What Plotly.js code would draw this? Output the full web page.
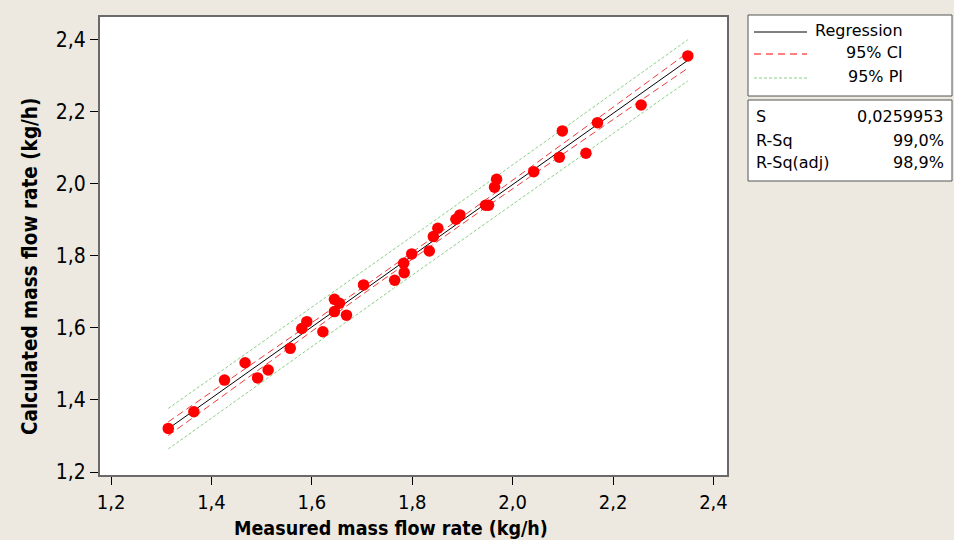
<!DOCTYPE html>
<html>
<head>
<meta charset="utf-8">
<script src="https://cdn.plot.ly/plotly-3.0.1.min.js"></script>
<style>html,body{margin:0;padding:0;background:#EDE9E0;overflow:hidden;}#chart{width:954px;height:540px;}</style>
</head>
<body>
<div id="chart"></div>
<script>
// Measured (x) and calculated (y) mass flow rates, kg/h
const measured = [1.314, 1.365, 1.426, 1.467, 1.492, 1.513, 1.557, 1.580, 1.590, 1.622,
  1.645, 1.645, 1.655, 1.669, 1.703, 1.765, 1.783, 1.784, 1.799, 1.834,
  1.842, 1.851, 1.887, 1.895, 1.946, 1.952, 1.964, 1.968, 2.042, 2.093,
  2.099, 2.146, 2.169, 2.256, 2.349];
const calculated = [1.321, 1.367, 1.455, 1.503, 1.461, 1.483, 1.543, 1.598, 1.617, 1.589,
  1.679, 1.645, 1.668, 1.635, 1.719, 1.732, 1.779, 1.753, 1.805, 1.813,
  1.853, 1.876, 1.901, 1.913, 1.940, 1.940, 1.990, 2.012, 2.033, 2.073,
  2.146, 2.084, 2.169, 2.218, 2.354];
const statLabels = ["S", "R-Sq", "R-Sq(adj)"];
const statValues = ["0,0259953", "99,0%", "98,9%"];
const legendLabels = ["Regression", "95% CI", "95% PI"];
const xTitle = 'Measured mass flow rate (kg/h)';
const yTitle = 'Calculated mass flow rate (kg/h)';
const sValue = 0.0259953;
const tValue = 2.035;
const tickVals = [1.2, 1.4, 1.6, 1.8, 2.0, 2.2, 2.4];

// least squares fit
const n = measured.length;
const xbar = measured.reduce((a, b) => a + b, 0) / n;
const ybar = calculated.reduce((a, b) => a + b, 0) / n;
let sxx = 0, sxy = 0;
for (let i = 0; i < n; i++) {
  sxx += (measured[i] - xbar) ** 2;
  sxy += (measured[i] - xbar) * (calculated[i] - ybar);
}
const b1 = sxy / sxx, b0 = ybar - b1 * xbar;
const xmin = Math.min(...measured), xmax = Math.max(...measured);
const gx = [], fit = [], ciU = [], ciL = [], piU = [], piL = [];
for (let k = 0; k <= 60; k++) {
  const x = xmin + (xmax - xmin) * k / 60;
  const f = b0 + b1 * x;
  const se = sValue * Math.sqrt(1 / n + (x - xbar) ** 2 / sxx);
  const sp = sValue * Math.sqrt(1 + 1 / n + (x - xbar) ** 2 / sxx);
  gx.push(x); fit.push(f);
  ciU.push(f + tValue * se); ciL.push(f - tValue * se);
  piU.push(f + tValue * sp); piL.push(f - tValue * sp);
}

const red = '#FF0000', ciRed = '#EE3A3A', green = '#88D088';
const traces = [
  {x: gx, y: piU, mode: 'lines', line: {color: green, width: 1, dash: '3px,2px'}},
  {x: gx, y: piL, mode: 'lines', line: {color: green, width: 1, dash: '3px,2px'}},
  {x: gx, y: ciU, mode: 'lines', line: {color: ciRed, width: 1, dash: '7px,4px'}},
  {x: gx, y: ciL, mode: 'lines', line: {color: ciRed, width: 1, dash: '7px,4px'}},
  {x: gx, y: fit, mode: 'lines', line: {color: '#000000', width: 1}},
  {x: measured, y: calculated, mode: 'markers', marker: {color: red, size: 11.5}}
];

// layout geometry (pixels)
const L = 100, R = 727, T = 17, B = 475;
const W = R - L, H = B - T;
const px = p => (p - L) / W;
const py = p => (B - p) / H;

const shapes = [
  {type: 'rect', xref: 'paper', yref: 'paper', x0: px(748), x1: px(952), y0: py(96), y1: py(15),
   line: {color: '#555555', width: 1}, fillcolor: '#FFFFFF', layer: 'below'},
  {type: 'rect', xref: 'paper', yref: 'paper', x0: px(748), x1: px(952), y0: py(181), y1: py(100),
   line: {color: '#555555', width: 1}, fillcolor: '#FFFFFF', layer: 'below'},
  {type: 'line', xref: 'paper', yref: 'paper', x0: px(754), x1: px(807), y0: py(32), y1: py(32),
   line: {color: '#000000', width: 1}},
  {type: 'line', xref: 'paper', yref: 'paper', x0: px(754), x1: px(807), y0: py(54), y1: py(54),
   line: {color: red, width: 1, dash: '7px,5px'}},
  {type: 'line', xref: 'paper', yref: 'paper', x0: px(754), x1: px(807), y0: py(78), y1: py(78),
   line: {color: green, width: 1, dash: '3px,2px'}}
];
const annFont = {family: 'DejaVu Sans', size: 16, color: '#000000'};
const titleFont = {family: 'DejaVu Sans Condensed, DejaVu Sans', size: 19.5, color: '#000000', weight: 'bold'};
const annotations = [];
const legY = [31, 53, 77];
legendLabels.forEach((t, i) => annotations.push({xref: 'paper', yref: 'paper', x: px(905), y: py(legY[i]),
  xanchor: 'right', yanchor: 'middle', text: t, showarrow: false, font: annFont}));
const statY = [117, 140, 163];
statLabels.forEach((t, i) => annotations.push({xref: 'paper', yref: 'paper', x: px(754), y: py(statY[i]),
  xanchor: 'left', yanchor: 'middle', text: t, showarrow: false, font: annFont}));
statValues.forEach((t, i) => annotations.push({xref: 'paper', yref: 'paper', x: px(946), y: py(statY[i]),
  xanchor: 'right', yanchor: 'middle', text: t, showarrow: false, font: annFont}));
annotations.push({xref: 'paper', yref: 'paper', x: px(391), y: py(528), xanchor: 'center', yanchor: 'middle',
  text: '<b>' + xTitle + '</b>', showarrow: false, font: titleFont});
annotations.push({xref: 'paper', yref: 'paper', x: px(30), y: py(267), xanchor: 'center', yanchor: 'middle',
  textangle: -90, text: '<b>' + yTitle + '</b>', showarrow: false, font: {...titleFont, size: 20.5}});

const tickFont = {family: 'DejaVu Sans Condensed, DejaVu Sans', size: 20, color: '#000000'};
const layout = {
  width: 954, height: 540,
  margin: {l: L, r: 954 - R, t: T, b: 540 - B},
  paper_bgcolor: '#EDE9E0', plot_bgcolor: '#FFFFFF',
  separators: ',.',
  showlegend: false,
  xaxis: {range: [1.178, 2.427], tickvals: tickVals, tickformat: '.1f', ticks: 'outside', ticklen: 8,
    tickcolor: '#000000', showgrid: false, zeroline: false, showline: true, mirror: true,
    linecolor: '#6A6A6A', linewidth: 2, tickfont: tickFont},
  yaxis: {range: [1.1917, 2.462], tickvals: tickVals, tickformat: '.1f', ticks: 'outside', ticklen: 8,
    tickcolor: '#000000', showgrid: false, zeroline: false, showline: true, mirror: true,
    linecolor: '#6A6A6A', linewidth: 2, tickfont: {...tickFont, size: 21}},
  shapes: shapes, annotations: annotations
};
Plotly.newPlot('chart', traces, layout, {displayModeBar: false, staticPlot: true});
</script>
</body>
</html>
